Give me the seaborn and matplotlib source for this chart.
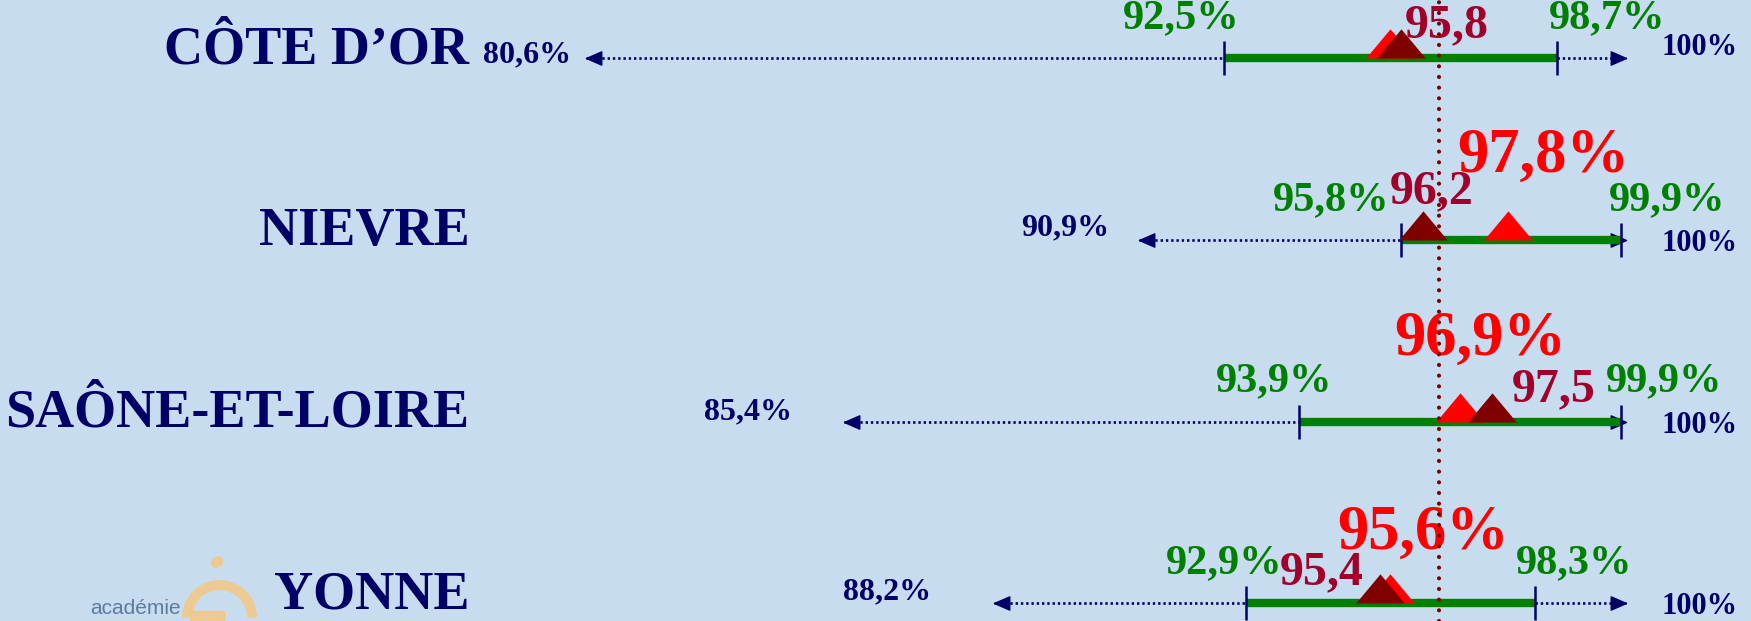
import numpy as np
import pandas as pd
import matplotlib
matplotlib.use("Agg")
import matplotlib.pyplot as plt
import seaborn as sns
from matplotlib.path import Path
from matplotlib.patches import Arc, Ellipse, Rectangle
from matplotlib.transforms import IdentityTransform

# ---------------- data ----------------
departments = ["CÔTE D\u2019OR", "NIEVRE", "SAÔNE-ET-LOIRE", "YONNE"]
min_values = [80.6, 90.9, 85.4, 88.2]        # left arrow end (minimum)
low_values = [92.5, 95.8, 93.9, 92.9]        # green bar start
high_values = [98.7, 99.9, 99.9, 98.3]       # green bar end
max_values = [100.0, 100.0, 100.0, 100.0]    # right arrow end
dept_values = [95.8, 96.2, 97.5, 95.4]       # dark red triangles
red_values = [95.6, 97.8, 96.9, 95.6]        # red triangles
reference_value = 96.5                       # dotted vertical line


def fr(v, pct=True):
    s = f"{v:.1f}".replace(".", ",")
    if v == 100:
        s = "100"
    return s + ("%" if pct else "")


df = pd.DataFrame({
    "dept": departments, "row": np.arange(len(departments)),
    "min": min_values, "low": low_values, "high": high_values,
    "max": max_values, "dept_val": dept_values, "red": red_values,
})

# ---------------- style ----------------
BG = "#C8DCF0"
NAVY = "#000066"
GREEN = "#008000"
RED = "#FF0000"
MAROON = "#800000"
DARKRED_TXT = "#A0002A"
SERIF = ["Liberation Serif", "DejaVu Serif"]
PX = 0.72  # px -> pt at 100 dpi

# label offsets in pixels (layout only)
green_low_dx = [15, -12, 33, 37]
green_high_dx = [-8, -12, -15, -19]
dark_dx = [46, 9, 61, -58]
dark_dy = [21, 36, 20, 19]
red_dx = [0, 35, 20, 33]
red_dy = [58, 68, 67, 55]
show_red_label = [False, True, True, True]
min_dx = [-15, -29, -52, -63]
min_dy = [-4, 4, 2.5, 3.5]
max_dy = [3, -11, -11.5, -11]

sns.set_theme(style="white")
plt.rcParams["font.family"] = SERIF

fig = plt.figure(figsize=(17.51, 6.21), dpi=100)
fig.patch.set_facecolor(BG)
ax = fig.add_axes([0, 0, 1, 1])
ax.set_facecolor(BG)

rows = df["row"].values

# dotted arrows (navy)
ax.hlines(rows, df["min"], df["low"], colors=NAVY, linewidth=1.9,
          linestyles=[(0, (0.9, 1.1))], zorder=2)
ax.hlines(rows, df["high"], df["max"], colors=NAVY, linewidth=1.9,
          linestyles=[(0, (0.9, 1.1))], zorder=2)
head_r = Path([(0, 0), (-1.15, 0.5), (-1.15, -0.5), (0, 0)],
              [Path.MOVETO, Path.LINETO, Path.LINETO, Path.CLOSEPOLY])
head_l = Path([(0, 0), (1.15, 0.5), (1.15, -0.5), (0, 0)],
              [Path.MOVETO, Path.LINETO, Path.LINETO, Path.CLOSEPOLY])
ax.plot(df["max"], rows, ls="none", marker=head_r, ms=22, color=NAVY, zorder=3)
ax.plot(df["min"], rows, ls="none", marker=head_l, ms=22, color=NAVY, zorder=3)

# green interval bar
ax.hlines(rows, df["low"], df["high"], colors=GREEN, linewidth=6, zorder=3)
# end ticks
ax.plot(df["low"], rows, ls="none", marker="|", ms=25, mew=1.8, color=NAVY, zorder=4)
ax.plot(df["high"], rows, ls="none", marker="|", ms=25, mew=1.8, color=NAVY, zorder=4)

# triangles
tri = Path([(-1, 0), (1, 0), (0, 1.2), (-1, 0)],
           [Path.MOVETO, Path.LINETO, Path.LINETO, Path.CLOSEPOLY])
sns.scatterplot(data=df, x="red", y="row", marker=tri, s=42 ** 2, color=RED,
                linewidth=0, ax=ax, zorder=5, legend=False)
sns.scatterplot(data=df, x="dept_val", y="row", marker=tri, s=42 ** 2, color=MAROON,
                linewidth=0, ax=ax, zorder=6, legend=False)
ax.set_xlim(69.659, 102.327)
ax.set_ylim(3.0974, -0.3191)
ax.axis("off")

# reference dotted line
ax.axvline(reference_value, color=MAROON, linewidth=3,
           linestyle=(0, (0.01, 2.55)), dash_capstyle="round", zorder=10)


def lab(text, x, y, dx, dy, ha, size, color, z=7):
    ax.annotate(text, xy=(x, y), xytext=(dx * PX, dy * PX),
                textcoords="offset points", ha=ha, va="baseline",
                fontsize=size, fontweight="bold", color=color,
                family=SERIF, zorder=z, annotation_clip=False)


for i, r in enumerate(rows):
    # department name
    ax.annotate(departments[i], xy=(0.268, r), xycoords=("axes fraction", "data"),
                xytext=(0, -5 * PX), textcoords="offset points", ha="right",
                va="baseline", fontsize=39, fontweight="bold", color=NAVY,
                family=SERIF)
    lab(fr(min_values[i]), min_values[i], r, min_dx[i], min_dy[i], "right", 23, NAVY)
    lab(fr(max_values[i]), max_values[i], r, 35, max_dy[i], "left", 22, NAVY)
    lab(fr(low_values[i]), low_values[i], r, green_low_dx[i], 30, "right", 30.5, GREEN)
    lab(fr(high_values[i]), high_values[i], r, green_high_dx[i], 30, "left", 30.5, GREEN)
    lab(fr(dept_values[i], pct=False), dept_values[i], r, dark_dx[i], dark_dy[i],
        "center", 34.5, DARKRED_TXT)
    if show_red_label[i]:
        lab(fr(red_values[i]), red_values[i], r, red_dx[i], red_dy[i],
            "center", 45, RED, z=8)

# faint academy logo (decoration, bottom-left)
idt = IdentityTransform()
fig.add_artist(Arc((219.5, 3.4), 65, 65, theta1=0, theta2=180, lw=7.2,
                   color="#F4C780", alpha=0.85, transform=idt))
fig.add_artist(Ellipse((217, 59), 12, 9, angle=35, color="#F4C780",
                       alpha=0.85, transform=idt))
fig.add_artist(Rectangle((190, 0), 34, 10, color="#F4C780", alpha=0.85,
                         transform=idt))
fig.text(90 / 1751, 3 / 621, "académie", ha="left", va="bottom",
         fontsize=15, color="#4F7393", alpha=0.9, family=["Liberation Sans", "DejaVu Sans"])

fig.savefig("out.png", dpi=100, facecolor=BG)
